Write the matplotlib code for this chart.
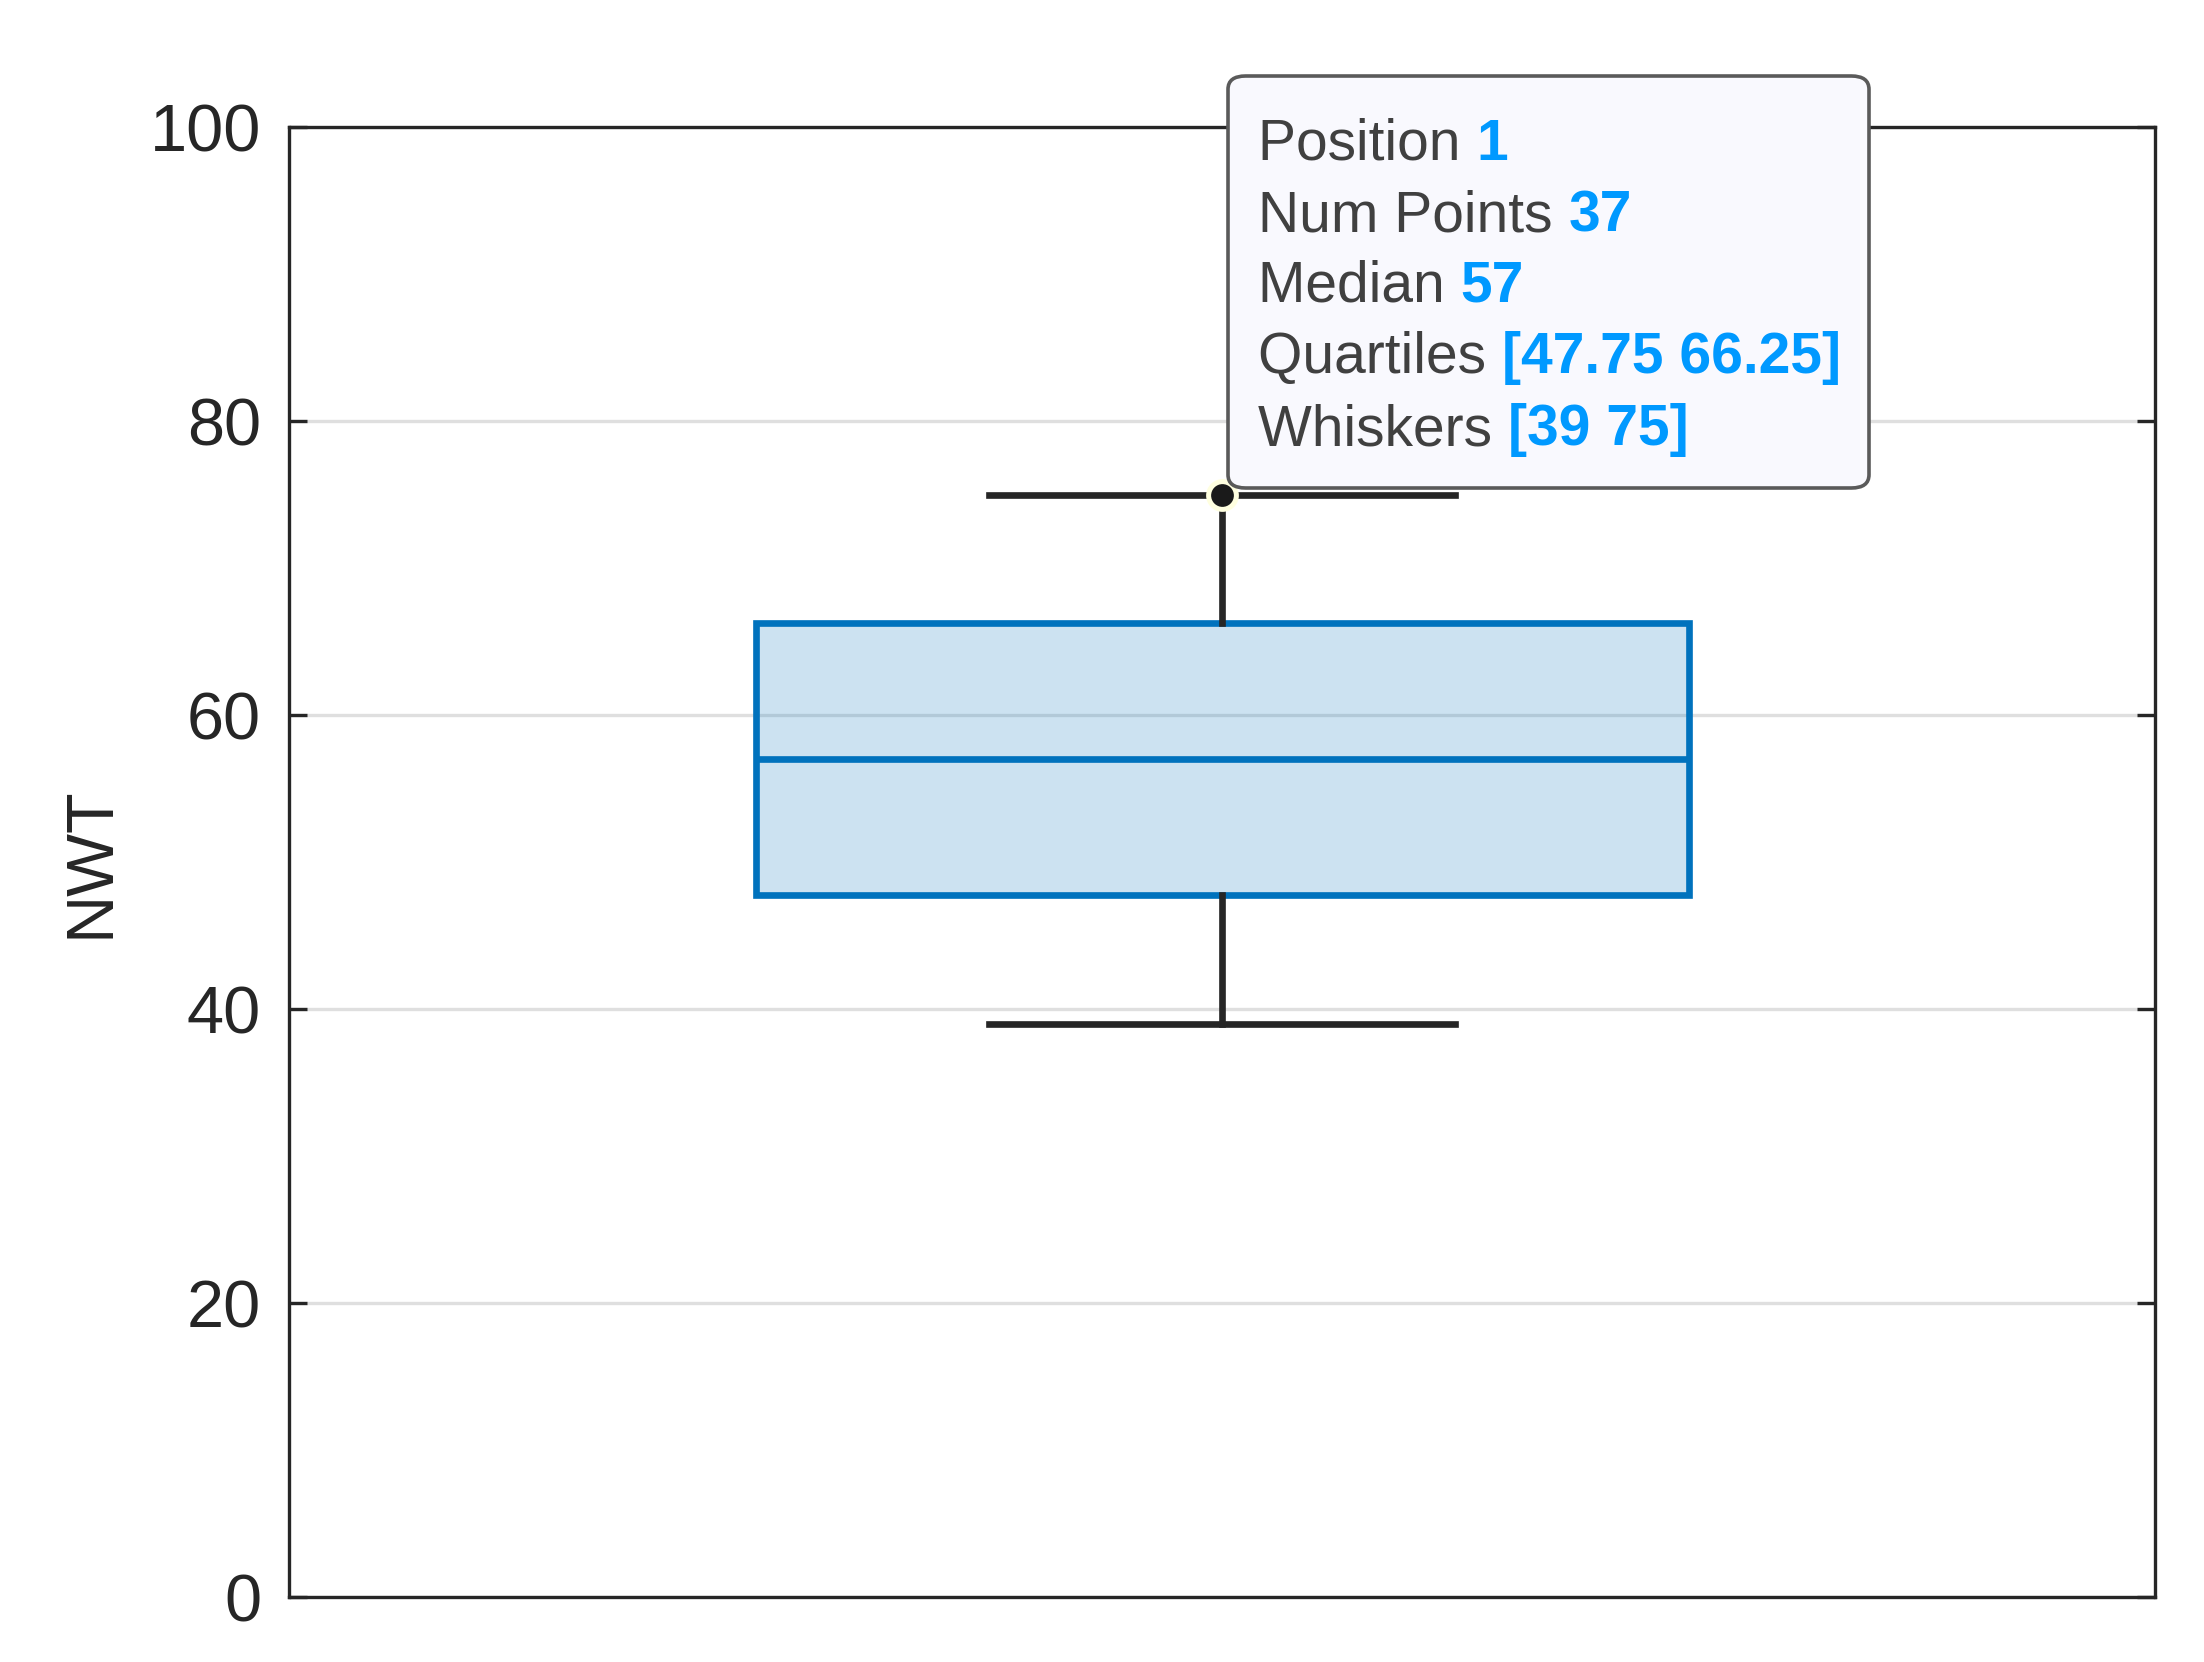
import matplotlib
matplotlib.use("Agg")
import matplotlib.pyplot as plt
from matplotlib.patches import FancyBboxPatch

plt.rcParams['font.family'] = ['Liberation Sans', 'DejaVu Sans']

# Data
position = 1
num_points = 37
median = 57
quartiles = [47.75, 66.25]
whiskers = [39, 75]
y_ticks = [0, 20, 40, 60, 80, 100]
y_label = "NWT"

blue = "#0072BD"
dark = "#262626"

fig = plt.figure(figsize=(11.02, 8.31), dpi=200)
ax = fig.add_axes([289/2204, 1 - 1597/1662, (2155-289)/2204, (1597-127)/1662])

stats = [dict(med=median, q1=quartiles[0], q3=quartiles[1],
              whislo=whiskers[0], whishi=whiskers[1], fliers=[], label="")]
ax.bxp(stats, positions=[position], widths=0.5, patch_artist=True,
       showfliers=False,
       boxprops=dict(facecolor=(0, 0x72/255, 0xBD/255, 0.2), edgecolor=blue, linewidth=2.4),
       medianprops=dict(color=blue, linewidth=2.4),
       whiskerprops=dict(color=dark, linewidth=2.4),
       capprops=dict(color=dark, linewidth=2.4),
       capwidths=0.25, zorder=3)

ax.set_xlim(0.5, 1.5)
ax.set_ylim(0, 100)
ax.set_yticks(y_ticks)
ax.set_xticks([])
ax.yaxis.grid(True, color="#DFDFDF", linewidth=1.2)
ax.set_axisbelow(True)
ax.tick_params(axis='y', direction='in', length=6.5, width=1.2, colors=dark,
               labelsize=24, left=True, right=True, pad=10)
for s in ax.spines.values():
    s.set_color(dark)
    s.set_linewidth(1.2)
ax.set_ylabel(y_label, fontsize=24, color=dark, labelpad=10)

# data tip marker
ax.plot([position], [whiskers[1]], marker='o', markersize=10, markerfacecolor='#1a1a1a',
        markeredgecolor='#FFFFE0', markeredgewidth=1.8, zorder=6, clip_on=False)

# tooltip box
x0, x1 = 1228/2204, 1869/2204
y0, y1 = 1 - 488/1662, 1 - 76/1662
box = FancyBboxPatch((x0, y0), x1 - x0, y1 - y0,
                     boxstyle="round,pad=0,rounding_size=0.008",
                     transform=fig.transFigure, facecolor="#F9F9FE",
                     edgecolor="#5A5A5A", linewidth=1.3, zorder=10)
fig.patches.append(box)

rows = [("Position", f"{position}"),
        ("Num Points", f"{num_points}"),
        ("Median", f"{median}"),
        ("Quartiles", f"[{quartiles[0]:g} {quartiles[1]:g}]"),
        ("Whiskers", f"[{whiskers[0]:g} {whiskers[1]:g}]")]
baselines = [160, 231, 302, 373, 445]
for (lab, val), yb in zip(rows, baselines):
    t = fig.text(1258/2204, 1 - yb/1662, lab + " ", fontsize=20.5, color="#404040",
                 ha='left', va='baseline', zorder=11)
    fig.texts.append(
        plt.Annotation(val, xy=(1, 0), xycoords=t, xytext=(0, 0),
                       textcoords='offset points', fontsize=20.5, color="#0099FF",
                       fontweight='bold', ha='left', va='bottom', zorder=11))
    fig.texts[-1].set_figure(fig)

fig.savefig("out.png", dpi=200)
